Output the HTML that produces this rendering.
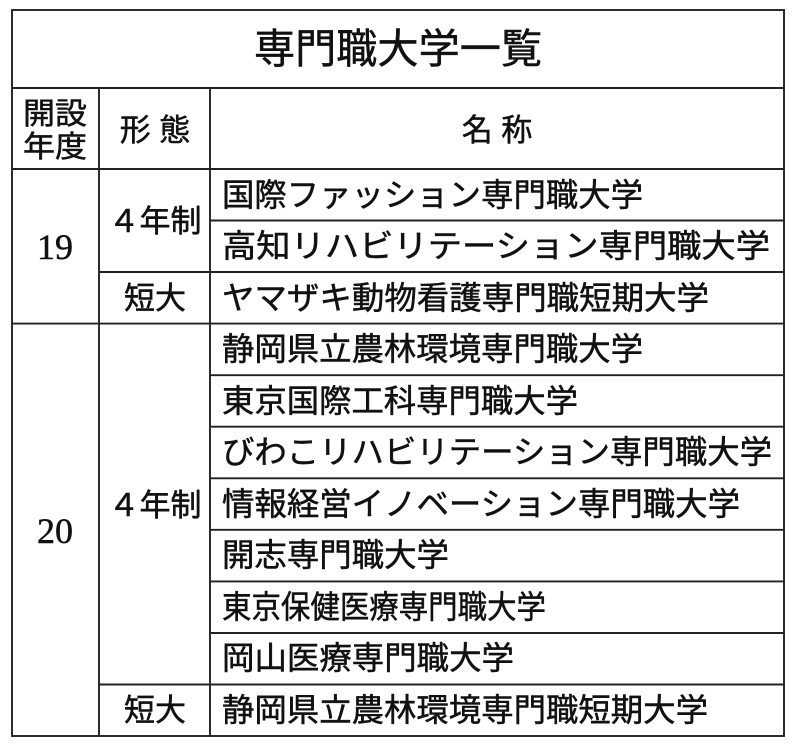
<!DOCTYPE html>
<html><head><meta charset="utf-8"><style>
html,body{margin:0;padding:0;background:#fff;width:800px;height:749px;overflow:hidden}
svg{display:block}
text{font-family:"Liberation Sans","Noto Sans CJK JP",sans-serif;fill:#111;font-weight:normal;stroke:#111;stroke-width:0.5}
.s{font-family:"Liberation Serif","Noto Serif CJK SC",serif}
</style></head><body>
<svg width="800" height="749" viewBox="0 0 800 749">
<g stroke="#222" stroke-width="1.9" fill="none">
<rect x="12" y="10" width="772" height="726"/>
<line x1="12" y1="88" x2="784" y2="88"/>
<line x1="12" y1="169" x2="784" y2="169"/>
<line x1="99" y1="88" x2="99" y2="736"/>
<line x1="210" y1="88" x2="210" y2="736"/>
<line x1="210" y1="220.5" x2="784" y2="220.5"/>
<line x1="99" y1="272" x2="784" y2="272"/>
<line x1="12" y1="323.6" x2="784" y2="323.6"/>
<line x1="210" y1="375.2" x2="784" y2="375.2"/>
<line x1="210" y1="426.7" x2="784" y2="426.7"/>
<line x1="210" y1="478.3" x2="784" y2="478.3"/>
<line x1="210" y1="529.8" x2="784" y2="529.8"/>
<line x1="210" y1="581.4" x2="784" y2="581.4"/>
<line x1="210" y1="633" x2="784" y2="633"/>
<line x1="99" y1="684.5" x2="784" y2="684.5"/>
</g>
<text x="398" y="63" font-size="41" text-anchor="middle" textLength="288" lengthAdjust="spacingAndGlyphs">専門職大学一覧</text>
<text x="55" y="124" font-size="30" text-anchor="middle" textLength="64" lengthAdjust="spacingAndGlyphs">開設</text>
<text x="55" y="157" font-size="30" text-anchor="middle" textLength="64" lengthAdjust="spacingAndGlyphs">年度</text>
<text x="155" y="141" font-size="31" text-anchor="middle">形 態</text>
<text x="497" y="141" font-size="31" text-anchor="middle">名 称</text>
<text class="s" x="55" y="259" font-size="36" text-anchor="middle">19</text>
<text class="s" x="55" y="543" font-size="36" text-anchor="middle">20</text>
<text x="155" y="232" font-size="31" text-anchor="middle">４年制</text>
<text x="155" y="309" font-size="31" text-anchor="middle">短大</text>
<text x="155" y="516" font-size="31" text-anchor="middle">４年制</text>
<text x="155" y="721" font-size="31" text-anchor="middle">短大</text>
<g font-size="32">
<text x="222" y="206" textLength="421" lengthAdjust="spacingAndGlyphs">国際ファッション専門職大学</text>
<text x="222" y="257" textLength="548" lengthAdjust="spacingAndGlyphs">高知リハビリテーション専門職大学</text>
<text x="222" y="309" textLength="487" lengthAdjust="spacingAndGlyphs">ヤマザキ動物看護専門職短期大学</text>
<text x="222" y="360" textLength="421" lengthAdjust="spacingAndGlyphs">静岡県立農林環境専門職大学</text>
<text x="222" y="412" textLength="356" lengthAdjust="spacingAndGlyphs">東京国際工科専門職大学</text>
<text x="222" y="463" textLength="550" lengthAdjust="spacingAndGlyphs">びわこリハビリテーション専門職大学</text>
<text x="222" y="515" textLength="518" lengthAdjust="spacingAndGlyphs">情報経営イノベーション専門職大学</text>
<text x="222" y="566" textLength="227" lengthAdjust="spacingAndGlyphs">開志専門職大学</text>
<text x="222" y="618" textLength="324" lengthAdjust="spacingAndGlyphs">東京保健医療専門職大学</text>
<text x="222" y="669" textLength="292" lengthAdjust="spacingAndGlyphs">岡山医療専門職大学</text>
<text x="222" y="721" textLength="486" lengthAdjust="spacingAndGlyphs">静岡県立農林環境専門職短期大学</text>
</g>
</svg>
</body></html>
